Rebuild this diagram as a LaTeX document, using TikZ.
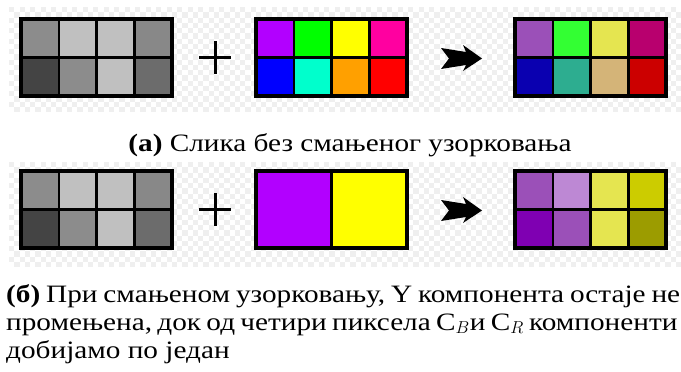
\documentclass[tikz,border=0pt]{standalone}
\usepackage{fontspec}
\setmainfont{Liberation Serif}[FakeStretch=1.17]
\definecolor{chk}{HTML}{EFEFEF}
\definecolor{ya}{HTML}{8C8C8C}
\definecolor{yb}{HTML}{C0C0C0}
\definecolor{yc}{HTML}{888888}
\definecolor{yd}{HTML}{444444}
\definecolor{ye}{HTML}{6C6C6C}
\definecolor{ca}{HTML}{B200FF}
\definecolor{cb}{HTML}{00FF00}
\definecolor{cc}{HTML}{FFFF00}
\definecolor{cd}{HTML}{FF00A0}
\definecolor{ce}{HTML}{0000FF}
\definecolor{cf}{HTML}{00FFCC}
\definecolor{cg}{HTML}{FFA000}
\definecolor{ch}{HTML}{FF0000}
\definecolor{ra}{HTML}{9B50B8}
\definecolor{rb}{HTML}{33FF33}
\definecolor{rc}{HTML}{E5E550}
\definecolor{rd}{HTML}{B8006E}
\definecolor{re}{HTML}{0A00B0}
\definecolor{rf}{HTML}{2DAD90}
\definecolor{rg}{HTML}{D4B478}
\definecolor{rh}{HTML}{CC0000}
\definecolor{sa}{HTML}{BD88D4}
\definecolor{sb}{HTML}{CCCC00}
\definecolor{sc}{HTML}{7F00B2}
\definecolor{sd}{HTML}{9C9C00}
\newcommand\pixgrid[3]{%
  \foreach \c [count=\k from 0] in {#3}{%
    \pgfmathtruncatemacro\col{mod(\k,4)}%
    \pgfmathtruncatemacro\row{div(\k,4)}%
    \fill[fill=\c] ({#1+\col*37.75},{#2+\row*38.5}) rectangle +(37.75,38.5);
  }%
  \draw[innerline] ({#1+37.75},#2) -- +(0,77) ({#1+75.5},#2) -- +(0,77) ({#1+113.25},#2) -- +(0,77) (#1,{#2+38.5}) -- +(151,0);
  \draw[outerline] (#1,#2) rectangle +(151,77);
}
\tikzset{
  innerline/.style={line width=2.5pt, draw=black},
  outerline/.style={line width=3.4pt, draw=black},
  plusline/.style={line width=3pt, draw=black},
  captxt/.style={font=\fontsize{25}{28}\selectfont, inner sep=0pt},
}
\begin{document}
\begin{tikzpicture}[x=1pt,y=-1pt]
\useasboundingbox (0,0) rectangle (681,372);
\clip (0,0) rectangle (681,372);
\fill[white] (0,0) rectangle (681,372);
% checkerboards
\foreach \i in {0,...,127}{
  \pgfmathtruncatemacro\jo{mod(\i,2)}
  \foreach \j in {0,2,...,18}{
    \fill[chk] ({9+\i*5.25},{7+(\j+\jo)*5.25}) rectangle +(5.25,5.25);
    \fill[chk] ({9+\i*5.25},{162+(\j+\jo)*5.25}) rectangle +(5.25,5.25);
  }
}
% row 1
\pixgrid{21}{19}{ya,yb,yb,yc,yd,ya,yb,ye}
\pixgrid{256}{19}{ca,cb,cc,cd,ce,cf,cg,ch}
\pixgrid{515}{19}{ra,rb,rc,rd,re,rf,rg,rh}
% row 2
\pixgrid{21}{171}{ya,yb,yb,yc,yd,ya,yb,ye}
\fill[ca] (256,171) rectangle +(75.5,77);
\fill[cc] (331.5,171) rectangle +(75.5,77);
\draw[innerline] (331.5,171) -- +(0,77);
\draw[outerline] (256,171) rectangle +(151,77);
\pixgrid{515}{171}{ra,sa,rc,sb,sc,ra,rc,sd}
% plus signs
\coordinate (p1) at (215,57.5);
\coordinate (p2) at (215,209.5);
\foreach \p in {p1,p2}{
  \draw[plusline] ([xshift=-16pt]\p) -- ([xshift=16pt]\p);
  \draw[plusline] ([yshift=-16.5pt]\p) -- ([yshift=16.5pt]\p);
}
% arrows
\foreach \dy in {0,152}{
  \fill[black, shift={(0,\dy)}] (441,48) -- (466,52) -- (463,45) -- (482,58.5) -- (463,71) -- (466,65) -- (441,69) -- (449,58.5) -- cycle;
}
% captions
\node[captxt, anchor=base] (capa) at (350,151) {\textbf{(а)} Слика без смањеног узорковања};
\node[captxt, anchor=base west] (capb1) at (6,302) {\spaceskip=5.9pt\textbf{(б)} При смањеном узорковању, Y компонента остаје не};
\node[captxt, anchor=base west] (capb2) at (6,330) {\spaceskip=5.3pt промењена, док од четири пиксела C$_B$и C$_R$ компоненти};
\node[captxt, anchor=base west] (capb3) at (6,358) {добијамо по један};
\end{tikzpicture}
\end{document}
